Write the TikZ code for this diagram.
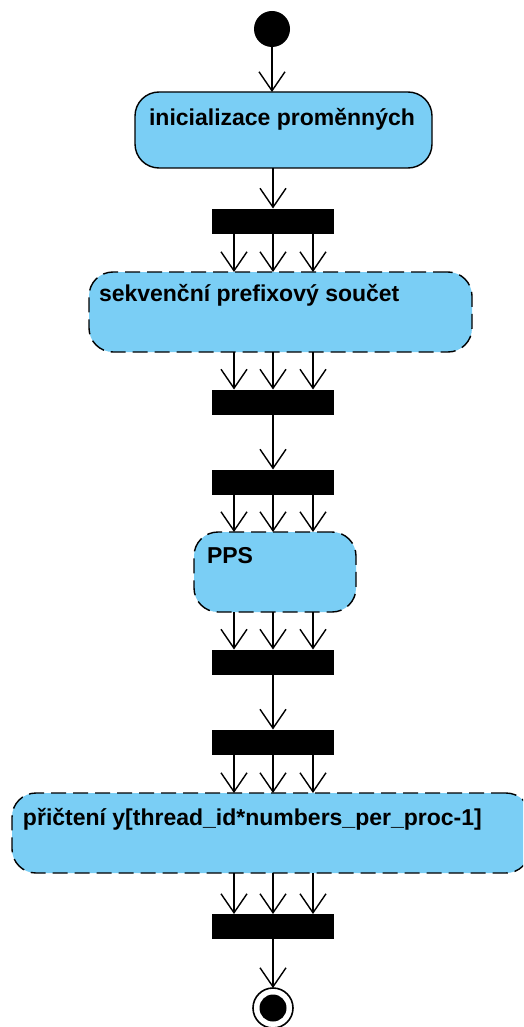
\documentclass[tikz,border=0pt]{standalone}
\usepackage{fontspec}
\setmainfont{Liberation Sans}
\usetikzlibrary{arrows.meta}
\definecolor{actfill}{RGB}{122,206,245}
\begin{document}
\begin{tikzpicture}[x=1pt,y=-1pt,
  every node/.style={inner sep=0pt, outer sep=0pt},
  action/.style={draw=black, fill=actfill, line width=1.4pt, rounded corners=24pt},
  dashedaction/.style={action, dash pattern=on 15pt off 7pt},
  syncbar/.style={fill=black, minimum width=122pt, minimum height=25pt},
  flow/.style={line width=1.4pt, -{Straight Barb[length=19pt,width=26pt,line width=1.4pt]}},
  acttext/.style={font=\bfseries\fontsize{23}{26}\selectfont, anchor=base west},
]
\useasboundingbox (0,0) rectangle (523,1027);
\clip (0,0) rectangle (523,1027);

% initial and final states
\node[circle, fill=black, minimum size=36pt] (start) at (272,29) {};
\node[circle, draw=black, line width=1.6pt, minimum size=40pt] (end) at (273,1008) {};
\node[circle, fill=black, minimum size=27pt] (enddot) at (end) {};

% actions
\node[action, minimum width=297pt, minimum height=76pt] (n1) at (283.5,130) {};
\node[dashedaction, minimum width=383pt, minimum height=80pt] (n2) at (280.5,312) {};
\node[dashedaction, minimum width=162pt, minimum height=80pt] (n3) at (275,572) {};
\node[dashedaction, minimum width=518pt, minimum height=80pt] (n4) at (271,833) {};

\node[acttext, anchor=base] (t1) at (282,126) {inicializace proměnných};
\node[acttext] (t2) at (99,301) {sekvenční prefixový součet};
\node[acttext] (t3) at (207,563) {PPS};
\node[acttext] (t4) at (23,825) {přičtení y[thread\_id*numbers\_per\_proc-1]};

% fork / join bars
\node[syncbar] (b1) at (273,221) {};
\node[syncbar] (b2) at (273,402) {};
\node[syncbar] (b3) at (273,482) {};
\node[syncbar] (b4) at (273,662) {};
\node[syncbar] (b5) at (273,742) {};
\node[syncbar] (b6) at (273,926.5) {};

% single flows
\draw[flow] (start.south) -- (start.south |- n1.north);
\draw[flow] (n1.south -| b1) -- (b1.north);
\draw[flow] (b2.south) -- (b3.north);
\draw[flow] (b4.south) -- (b5.north);
\draw[flow] (b6.south) -- (end.north);

% triple flows between bars and actions
\foreach \dx in {-39,0,40} {
  \draw[flow] ([xshift=\dx pt]b1.south) -- ([xshift=\dx pt]b1.south |- n2.north);
  \draw[flow] ([xshift=\dx pt]b2.north |- n2.south) -- ([xshift=\dx pt]b2.north);
  \draw[flow] ([xshift=\dx pt]b3.south) -- ([xshift=\dx pt]b3.south |- n3.north);
  \draw[flow] ([xshift=\dx pt]b4.north |- n3.south) -- ([xshift=\dx pt]b4.north);
  \draw[flow] ([xshift=\dx pt]b5.south) -- ([xshift=\dx pt]b5.south |- n4.north);
  \draw[flow] ([xshift=\dx pt]b6.north |- n4.south) -- ([xshift=\dx pt]b6.north);
}
\end{tikzpicture}
\end{document}
